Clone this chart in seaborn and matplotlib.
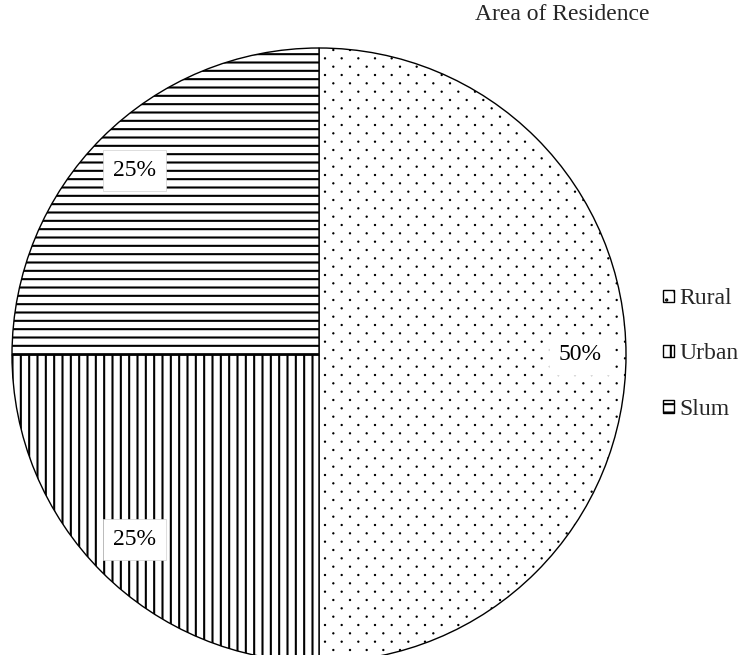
import matplotlib
matplotlib.use("Agg")
import numpy as np
import matplotlib.pyplot as plt
import matplotlib.hatch as mhatch
from matplotlib.path import Path
import seaborn as sns

categories = ["Rural", "Urban", "Slum"]
shares = [50, 25, 25]
hatches = [".", "||", "--"]
title = "Area of Residence"


class SparseDots(mhatch.HatchPatternBase):
    """Tiny dots: columns at 1/n, rows at 1/(2n), alternate rows staggered."""
    radius = 0.006

    def __init__(self, hatch, density):
        n = hatch.count(".") * density
        self.n = n
        circ = Path.unit_circle()
        self.shape_vertices = circ.vertices
        self.shape_codes = circ.codes
        if n == 0:
            self.num_vertices = 0
            return
        nrows = 2 * n
        count = sum((n + 1) if r % 2 == 0 else n for r in range(nrows + 1))
        self.num_vertices = count * len(circ.vertices)

    def set_vertices_and_codes(self, vertices, codes):
        n = self.n
        off = 1.0 / n
        sv = self.shape_vertices * self.radius
        vparts, cparts = [], []
        for r in range(2 * n + 1):
            if r % 2 == 0:
                cols = np.linspace(0, 1, n + 1)
            else:
                cols = np.linspace(off / 2, 1 - off / 2, n)
            y = r * off / 2
            for x in cols:
                vparts.append(sv + [x, y])
                cparts.append(self.shape_codes)
        np.concatenate(vparts, out=vertices)
        np.concatenate(cparts, out=codes)


mhatch._hatch_types[:] = [
    SparseDots if t is mhatch.SmallFilledCircles else t for t in mhatch._hatch_types
]

sns.set_theme(style="white")
plt.rcParams["font.family"] = ["Liberation Serif", "DejaVu Serif"]
plt.rcParams["hatch.linewidth"] = 1.5

W, H = 742, 655
fig = plt.figure(figsize=(W / 100, H / 100), dpi=100)
cx, cy, r = 319, 355, 307
ax = fig.add_axes([(cx - r) / W, (H - cy - r) / H, 2 * r / W, 2 * r / H])

wedges, texts, autotexts = ax.pie(
    shares,
    startangle=90,
    counterclock=False,
    autopct="%d%%",
    pctdistance=0.85,
    wedgeprops=dict(facecolor="white", edgecolor="black", linewidth=1.0),
    textprops=dict(fontsize=17, color="black"),
)
for w, h in zip(wedges, hatches):
    w.set_hatch(h)
    if h == ".":
        if hasattr(w, "set_hatch_linewidth"):
            w.set_hatch_linewidth(0.8)
        else:
            w._hatch_linewidth = 0.8
for t, h in zip(autotexts, hatches):
    ec = "white" if h == "." else "#d0d0d0"
    t.set_bbox(dict(boxstyle="square,pad=0.42", facecolor="white", edgecolor=ec, linewidth=0.5))
ax.set_xlim(-1, 1)
ax.set_ylim(-1, 1)
ax.set_aspect("equal")
ax.axis("off")

fig.text(562 / W, 1 - 15 / H, title, ha="center", va="center", fontsize=17)

leg = fig.legend(
    wedges, categories,
    loc="center left",
    bbox_to_anchor=(646 / W, 1 - 354 / H),
    frameon=False,
    fontsize=17,
    handlelength=0.48,
    handleheight=0.45,
    handletextpad=0.25,
    labelspacing=1.45,
    borderpad=0.2,
)
for p in leg.get_patches():
    p.set_linewidth(1.0)

fig.savefig("out.png", dpi=100)
